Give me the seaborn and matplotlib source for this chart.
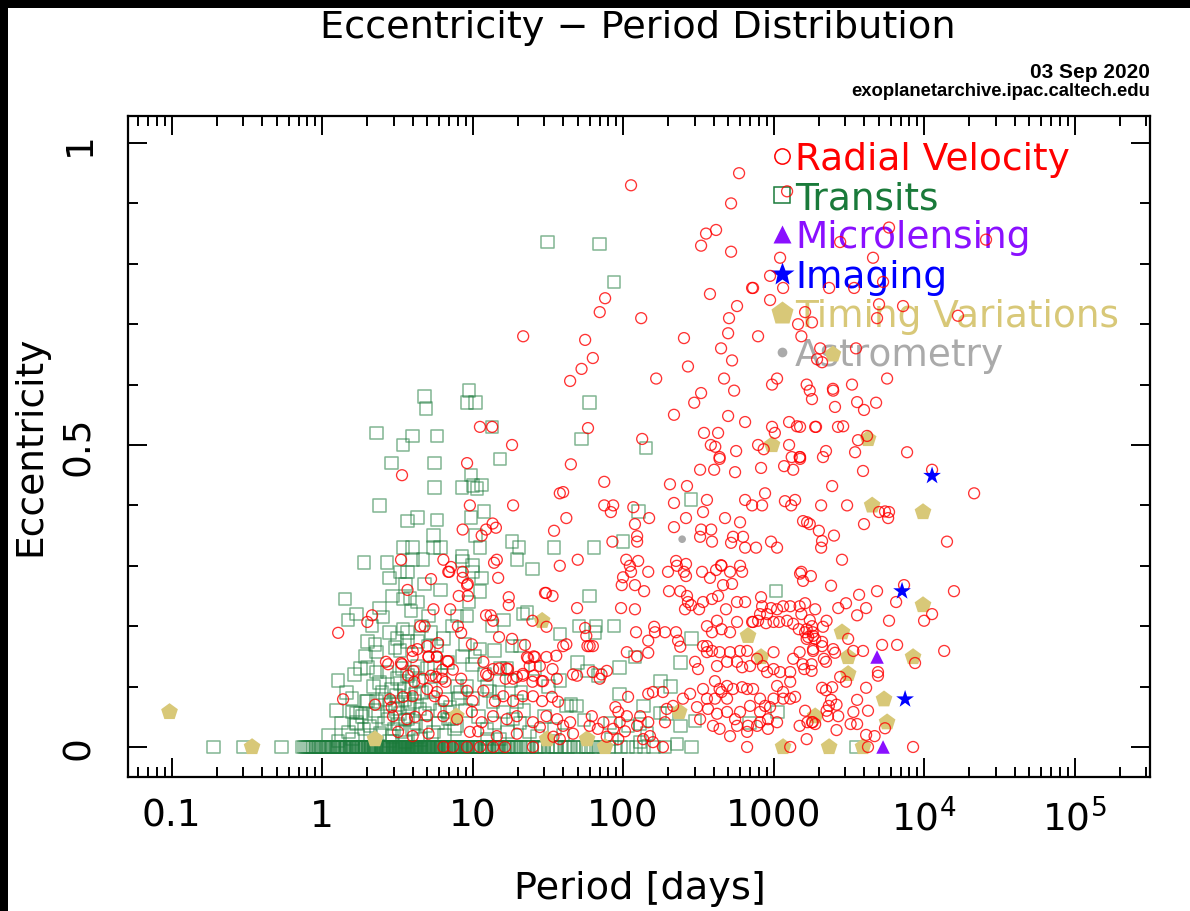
import matplotlib
matplotlib.use("Agg")
import matplotlib.pyplot as plt
from matplotlib.patches import Rectangle
from matplotlib.lines import Line2D
from matplotlib import lines as mlines
from matplotlib.ticker import LogLocator, MultipleLocator, NullFormatter
import pandas as pd
import seaborn as sns

# ---------------------------------------------------------------- data
# (orbital period [days], eccentricity) per discovery method

# Transits: planets with eccentricity fixed at zero
transit_circular_periods = [
    0.19, 0.30, 0.54, 0.74, 0.76, 0.79, 0.81, 0.83, 0.86, 0.88, 0.91, 0.94, 0.97, 0.99,
    1.02, 1.06, 1.09, 1.12, 1.15, 1.19, 1.22, 1.25, 1.29, 1.33, 1.37, 1.40, 1.44, 1.48,
    1.51, 1.55, 1.59, 1.63, 1.68, 1.72, 1.77, 1.81, 1.86, 1.9, 1.95, 2.0, 2.04, 2.09,
    2.13, 2.18, 2.22, 2.27, 2.31, 2.36, 2.41, 2.45, 2.5, 2.55, 2.6, 2.66, 2.71, 2.77,
    2.82, 2.88, 2.93, 2.99, 3.05, 3.1, 3.16, 3.22, 3.28, 3.35, 3.41, 3.47, 3.53, 3.6,
    3.67, 3.74, 3.81, 3.88, 3.95, 4.03, 4.11, 4.19, 4.27, 4.36, 4.44, 4.53, 4.62, 4.71,
    4.8, 4.9, 5.0, 5.1, 5.21, 5.33, 5.45, 5.57, 5.7, 5.84, 5.98, 6.12, 6.27, 6.43, 6.6,
    6.77, 6.95, 7.14, 7.34, 7.55, 7.77, 8.0, 8.24, 8.5, 8.77, 9.05, 9.35, 9.66, 9.98,
    10.3, 10.7, 11.1, 11.5, 12.0, 12.5, 13.0, 13.6, 14.2, 14.8, 15.5, 16.3, 17.1, 18.0,
    18.9, 19.9, 21.0, 22.2, 23.5, 24.9, 26.4, 28.0, 29.8, 31.7, 33.8, 36.0, 38.5, 41.2,
    44.1, 47.3, 50.8, 54.6, 58.8, 63.3, 68.4, 74.0, 80.1, 88.0, 97.0, 108, 122, 138,
    160, 190, 285, 3570,
    1.1, 1.27, 1.42, 1.57, 1.7, 1.84, 2.03, 2.21, 2.47, 2.58, 2.74, 2.96, 3.13, 3.3,
    3.44, 3.57, 3.7, 3.92, 4.07, 4.24, 4.49, 4.75, 5.05, 5.4, 5.77, 6.2, 6.9, 7.6, 8.4,
    9.2, 10.1, 11.3, 12.8, 14.5, 16.8, 19.5,
    0.95, 1.05, 1.17, 1.31, 1.46, 1.61, 1.75, 1.93, 2.11, 2.29, 2.52, 2.69, 2.86, 3.08,
    3.25, 3.38, 3.5, 3.63, 3.78, 3.99, 4.15, 4.32, 4.58, 4.85, 5.15, 5.52, 5.92, 6.35,
    7.0, 7.9, 8.9, 10.5, 12.2, 15.0, 17.5, 22.8, 27.1, 34.9, 43.0, 57.0,
]

transit_eccentric = [
    (4.8, 0.58), (4.9, 0.56), (9.5, 0.59), (9.2, 0.57), (10.5, 0.57), (2.3, 0.52),
    (4.0, 0.515), (5.8, 0.515), (3.45, 0.50), (13.5, 0.53), (2.9, 0.47), (5.6, 0.47),
    (15.2, 0.477), (9.8, 0.45), (8.5, 0.43), (10.1, 0.433), (11.5, 0.434), (10.7, 0.428),
    (5.6, 0.43), (2.4, 0.40), (4.3, 0.38), (3.7, 0.374), (5.8, 0.376), (9.8, 0.38),
    (11.9, 0.39), (5.5, 0.35), (10.5, 0.35), (11.2, 0.33), (3.45, 0.33), (4.0, 0.33),
    (5.5, 0.33), (6.1, 0.33), (18.3, 0.34), (20.3, 0.33), (34.8, 0.33), (1.9, 0.305),
    (2.7, 0.305), (4.7, 0.31), (4.0, 0.31), (8.5, 0.315), (8.6, 0.308), (10, 0.30),
    (19.7, 0.31), (25, 0.295),
    (1.42, 0.245), (1.28, 0.11), (1.58, 0.08), (1.7, 0.22), (1.49, 0.21), (2.4, 0.23),
    (2.8, 0.28), (3.3, 0.29), (3.7, 0.29), (4.8, 0.27), (3.6, 0.27), (3.45, 0.245),
    (3.85, 0.247), (4.3, 0.24), (6.1, 0.26), (5.1, 0.217), (7.9, 0.217), (9.2, 0.217),
    (9.5, 0.24), (11.2, 0.257), (11.5, 0.28), (10, 0.29), (16, 0.21), (21.6, 0.22),
    (20.7, 0.167), (18.3, 0.167), (14, 0.16), (11.2, 0.162), (10.4, 0.15), (8.6, 0.15),
    (10, 0.137), (7.9, 0.10), (9.2, 0.10), (8.3, 0.09), (10, 0.08), (12.5, 0.10),
    (13, 0.093), (15.2, 0.13), (16.9, 0.13), (19.7, 0.075), (18.6, 0.046), (20.7, 0.04),
    (24, 0.025), (27, 0.018), (12.5, 0.03), (23, 0.223), (6.4, 0.18), (5.8, 0.167),
    (5.1, 0.167), (4.3, 0.175), (3.7, 0.175), (3.15, 0.18), (3.05, 0.165), (3.3, 0.16),
    (2.25, 0.17), (2.3, 0.157), (2.0, 0.175), (2.8, 0.19), (3.45, 0.195), (3.7, 0.19),
    (1.8, 0.13), (2.0, 0.132), (2.3, 0.124), (2.0, 0.076), (2.3, 0.075), (1.6, 0.058),
    (1.7, 0.041), (2.4, 0.107), (2.7, 0.124), (3.15, 0.113), (3.4, 0.13), (3.7, 0.118),
    (4.0, 0.124), (4.3, 0.134), (5.0, 0.13), (5.6, 0.132), (6.1, 0.118),
    (2.62, 0.079), (2.83, 0.071), (3.05, 0.063), (3.3, 0.055), (3.56, 0.079), (3.84, 0.071),
    (4.14, 0.088), (4.47, 0.063), (2.74, 0.046), (3.2, 0.038), (3.72, 0.046), (4.0, 0.03),
    (2.43, 0.022), (2.92, 0.017), (3.4, 0.026), (4.34, 0.017), (2.08, 0.035), (2.25, 0.06),
    (1.84, 0.05), (4.83, 0.055), (5.2, 0.071), (6.07, 0.06), (6.9, 0.046), (6.6, 0.079),
    (7.6, 0.03), (6.8, 0.058), (7.3, 0.046), (7.9, 0.035), (12.5, 0.013), (15.2, 0.013),
    (13.7, 0.075), (16, 0.058), (1.7, 0.056), (1.8, 0.056), (1.96, 0.075), (1.7, 0.038),
    (1.28, 0.01), (1.6, 0.013),
    (2.5, 0.09), (2.9, 0.095), (3.1, 0.085), (3.5, 0.095), (3.9, 0.1), (4.6, 0.09),
    (5.3, 0.095), (2.2, 0.1), (3.3, 0.105), (4.4, 0.11), (2.6, 0.04), (3.0, 0.03),
    (3.55, 0.045), (4.2, 0.04), (4.9, 0.035), (5.5, 0.025), (2.8, 0.01), (3.6, 0.008),
    (4.5, 0.012), (3.2, 0.07), (3.75, 0.065), (4.1, 0.075), (2.35, 0.05), (5.9, 0.04),
    (6.5, 0.02), (7.1, 0.065), (8.0, 0.08), (9.0, 0.06), (11, 0.05), (14, 0.04),
    (17, 0.025), (22, 0.06), (30, 0.05), (35, 0.03), (40, 0.02), (2.1, 0.02), (1.9, 0.03),
    (1.5, 0.025), (1.35, 0.04), (1.1, 0.02), (1.25, 0.06), (1.45, 0.09), (1.65, 0.12),
    (1.95, 0.15), (2.15, 0.2), (2.55, 0.215), (2.95, 0.25), (3.9, 0.225), (4.6, 0.2),
    (5.3, 0.19), (6.8, 0.14), (7.3, 0.2), (8.9, 0.17), (12, 0.12), (13.5, 0.2), (15, 0.09),
    (18, 0.11), (21, 0.09), (26, 0.13), (32, 0.1), (45, 0.07), (55, 0.045),
    (31.6, 0.836), (70, 0.833), (87, 0.77), (60, 0.57), (53, 0.51), (142, 0.495),
    (282, 0.41), (127, 0.39), (100, 0.34), (64, 0.33), (60, 0.25), (51, 0.2), (66, 0.2),
    (87, 0.2), (65, 0.19), (285, 0.18), (240, 0.14), (38, 0.187), (50, 0.14), (58, 0.126),
    (68, 0.118), (95, 0.132), (120, 0.149), (1035, 0.258), (178, 0.109), (207, 0.10),
    (95, 0.088), (137, 0.068), (176, 0.056), (195, 0.055), (240, 0.035), (300, 0.043),
    (82, 0.04), (108, 0.035), (130, 0.038), (144, 0.022), (228, 0.005), (84, 0.013),
    (130, 0.008), (1065, 0.058), (690, 0.04), (38, 0.11), (42, 0.068), (49, 0.068),
]

rv_short = [
    (11.2, 0.53), (13.5, 0.53), (18.3, 0.50), (9.2, 0.47), (3.4, 0.45), (9.6, 0.40),
    (18.6, 0.40), (8.6, 0.36), (11.5, 0.35), (12.3, 0.36), (13.6, 0.37), (14.3, 0.363),
    (34.8, 0.358), (38, 0.42), (3.35, 0.31), (6.4, 0.31), (7.2, 0.298), (13.9, 0.305),
    (14.5, 0.31), (21.7, 0.68), (7.0, 0.29), (5.3, 0.278), (3.7, 0.26), (8.6, 0.28),
    (9.2, 0.268), (8.1, 0.25), (9.3, 0.25), (14.8, 0.28), (17.4, 0.248), (17.4, 0.235),
    (30.3, 0.255), (5.5, 0.228), (7.1, 0.228), (2.15, 0.218), (2.0, 0.207), (1.28, 0.189),
    (12.3, 0.218), (13.2, 0.218), (13.7, 0.209), (8.0, 0.2), (8.4, 0.189), (4.5, 0.2),
    (4.8, 0.2), (5.9, 0.172), (9.9, 0.17), (15, 0.182), (18.3, 0.179), (22.3, 0.169),
    (25, 0.209), (4.0, 0.159), (5.1, 0.15), (5.8, 0.15), (3.35, 0.139), (6.8, 0.142),
    (7.4, 0.128), (6.3, 0.128), (11.8, 0.141), (12.7, 0.118), (15, 0.13), (16.9, 0.13),
    (23.4, 0.147), (25.5, 0.15), (29.4, 0.109), (19.7, 0.116), (21.6, 0.121), (25, 0.108),
    (2.66, 0.141), (1.38, 0.079), (2.25, 0.07), (2.9, 0.066), (4.1, 0.108), (4.7, 0.113),
    (5.7, 0.116), (5.8, 0.091), (6.6, 0.108), (8.6, 0.29), (6.9, 0.29), (9.3, 0.27),
    (30.8, 0.255), (34, 0.25), (31, 0.199), (5.0, 0.167), (4.3, 0.162), (4.0, 0.149),
    (3.4, 0.137), (2.75, 0.137), (5.8, 0.149), (5.1, 0.149), (6.9, 0.142), (13.7, 0.129),
    (17.2, 0.129), (23, 0.149), (26, 0.149), (31, 0.149), (36, 0.151), (24, 0.134),
    (28, 0.134), (34, 0.129), (3.73, 0.118), (4.05, 0.126), (5.3, 0.118), (6.3, 0.113),
    (8.4, 0.113), (12.3, 0.121), (16.6, 0.113), (18.6, 0.113), (21.6, 0.118), (25.5, 0.118),
    (28.8, 0.109), (36.3, 0.113), (5.0, 0.096), (5.6, 0.084), (6.4, 0.076), (9.2, 0.093),
    (10, 0.076), (11.8, 0.093), (14.1, 0.076), (16, 0.084), (18.6, 0.076), (21.6, 0.084),
    (25.2, 0.084), (29, 0.076), (33.7, 0.083), (37, 0.075), (2.83, 0.079), (3.45, 0.083),
    (4.0, 0.084), (2.96, 0.051), (3.67, 0.046), (4.15, 0.05), (5.0, 0.051), (6.4, 0.051),
    (7.9, 0.046), (9.9, 0.058), (11.5, 0.041), (13.7, 0.051), (16.9, 0.046), (19.7, 0.051),
    (25.2, 0.041), (31, 0.051), (36.5, 0.046), (3.2, 0.025), (4.0, 0.018), (5.1, 0.022),
    (9.6, 0.025), (10.9, 0.026), (14.5, 0.018), (19.7, 0.022), (28, 0.033), (34.5, 0.017),
    (6.4, 0.0), (7.4, 0.0), (9.2, 0.0), (11.2, 0.0), (13.7, 0.0), (16.4, 0.0), (25.2, 0.0),
]

rv_mid = [
    (590, 0.95), (113, 0.93), (522, 0.90), (356, 0.85), (415, 0.856), (330, 0.83),
    (522, 0.82), (720, 0.76), (378, 0.75), (948, 0.74), (948, 0.78), (572, 0.73),
    (506, 0.71), (499, 0.685), (789, 0.68), (448, 0.66), (530, 0.64), (469, 0.61),
    (547, 0.59), (977, 0.60), (499, 0.548), (647, 0.538), (977, 0.53), (345, 0.52),
    (428, 0.52), (383, 0.50), (410, 0.497), (564, 0.49), (438, 0.48), (789, 0.50),
    (860, 0.493), (254, 0.677), (270, 0.63), (166, 0.61), (330, 0.586), (297, 0.57),
    (218, 0.55), (132, 0.71), (76, 0.743), (70, 0.72), (56, 0.674), (63, 0.644),
    (53, 0.626), (44.5, 0.606), (58.5, 0.528), (134, 0.51), (731, 0.76),
    (45, 0.468), (325, 0.459), (403, 0.459), (555, 0.455), (826, 0.462), (438, 0.477),
    (75, 0.439), (40, 0.422), (205, 0.435), (266, 0.432), (878, 0.42), (75, 0.40),
    (86, 0.40), (83, 0.389), (117, 0.397), (218, 0.404), (361, 0.409), (647, 0.409),
    (720, 0.40), (839, 0.40), (42, 0.379), (149, 0.379), (262, 0.379), (340, 0.389),
    (476, 0.379), (599, 0.372), (120, 0.369), (218, 0.364), (330, 0.36), (385, 0.36),
    (325, 0.348), (538, 0.348), (627, 0.348), (522, 0.338), (124, 0.349), (124, 0.34),
    (85, 0.34), (390, 0.34), (765, 0.33), (647, 0.33), (962, 0.34),
    (50, 0.31), (38, 0.30), (105, 0.31), (111, 0.30), (126, 0.308), (147, 0.29),
    (113, 0.29), (100, 0.281), (225, 0.308), (228, 0.30), (262, 0.303), (199, 0.29),
    (262, 0.283), (254, 0.29), (335, 0.29), (378, 0.28), (415, 0.293), (448, 0.301),
    (451, 0.30), (514, 0.29), (599, 0.30), (618, 0.29), (462, 0.268), (530, 0.27),
    (98, 0.268), (120, 0.268), (138, 0.258), (202, 0.258), (240, 0.258), (266, 0.25),
    (270, 0.24), (283, 0.235), (340, 0.24), (390, 0.245), (428, 0.25), (483, 0.228),
    (572, 0.24), (647, 0.24), (320, 0.228), (258, 0.228), (97, 0.23), (120, 0.228),
    (49.5, 0.23), (826, 0.248), (839, 0.233), (962, 0.23),
    (906, 0.22), (813, 0.22), (731, 0.207), (789, 0.209), (891, 0.205), (421, 0.209),
    (361, 0.20), (390, 0.19), (451, 0.195), (514, 0.19), (572, 0.207), (720, 0.207),
    (161, 0.199), (163, 0.19), (190, 0.19), (225, 0.19), (232, 0.176), (240, 0.166),
    (147, 0.176), (122, 0.19), (56, 0.197), (57, 0.184), (60, 0.167), (63, 0.167),
    (58, 0.167), (42, 0.17), (40, 0.167), (46.5, 0.12), (49.5, 0.118), (106, 0.157),
    (124, 0.15), (147, 0.156), (340, 0.167), (361, 0.167), (361, 0.157), (301, 0.141),
    (315, 0.129), (390, 0.159), (438, 0.157), (514, 0.157), (599, 0.159), (667, 0.159),
    (421, 0.134), (491, 0.141), (572, 0.141), (618, 0.132), (698, 0.134), (851, 0.134),
    (906, 0.124), (777, 0.146),
    (408, 0.109), (438, 0.096), (491, 0.101), (538, 0.096), (618, 0.099), (667, 0.096),
    (731, 0.096), (340, 0.096), (361, 0.08), (408, 0.08), (491, 0.08), (451, 0.091),
    (250, 0.08), (279, 0.088), (813, 0.08), (878, 0.068), (948, 0.066), (698, 0.068),
    (813, 0.058), (918, 0.046), (310, 0.066), (367, 0.063), (421, 0.055), (491, 0.058),
    (599, 0.058), (325, 0.046), (396, 0.035), (438, 0.03), (572, 0.035), (676, 0.035),
    (813, 0.041), (777, 0.035), (918, 0.03), (555, 0.046), (514, 0.018), (667, 0.025),
    (667, 0.0), (184, 0.0), (158, 0.008), (151, 0.018), (124, 0.035), (130, 0.051),
    (136, 0.013), (147, 0.041), (93, 0.058), (89, 0.066), (106, 0.051), (95, 0.041),
    (86, 0.03), (103, 0.026), (93, 0.013), (62, 0.051), (60, 0.035), (68, 0.03),
    (74, 0.041), (78, 0.017), (40, 0.035), (44.5, 0.041), (46.5, 0.022), (38, 0.013),
    (108, 0.083), (147, 0.088), (158, 0.091), (184, 0.091), (195, 0.063), (190, 0.041),
    (215, 0.068), (70, 0.113), (63, 0.124), (72, 0.12), (78, 0.126),
]

rv_long = [
    (1230, 0.92), (1105, 0.81), (1157, 0.76), (1620, 0.72), (1455, 0.70), (1800, 0.703),
    (1530, 0.68), (1055, 0.61), (1660, 0.60), (1800, 0.576), (1268, 0.538), (1430, 0.531),
    (1915, 0.53), (1020, 0.52), (1268, 0.50), (1320, 0.48), (1490, 0.48),
    (25800, 0.84), (5850, 0.86), (2770, 0.836), (4580, 0.81), (2340, 0.76), (3430, 0.76),
    (5340, 0.77), (5020, 0.733), (7250, 0.73), (16800, 0.714), (4870, 0.71), (2040, 0.66),
    (3530, 0.66), (1945, 0.642), (2100, 0.637), (2480, 0.593), (5680, 0.61),
    (1740, 0.59), (2490, 0.59), (2560, 0.563), (3320, 0.60), (3590, 0.571), (3990, 0.558),
    (4800, 0.57), (1890, 0.53), (2680, 0.53), (2900, 0.531), (1500, 0.53), (4180, 0.515),
    (3640, 0.508), (2230, 0.49), (2130, 0.48), (3480, 0.488), (7710, 0.488), (1500, 0.48),
    (3930, 0.457), (11300, 0.459), (21500, 0.42), (2450, 0.432), (2070, 0.40), (3080, 0.40),
    (5020, 0.389), (5500, 0.39), (5850, 0.389), (5770, 0.379), (1570, 0.374), (1740, 0.369),
    (1670, 0.372), (3990, 0.369), (2000, 0.358), (2520, 0.35), (2100, 0.341), (2070, 0.33),
    (14200, 0.34), (2850, 0.31), (1530, 0.29), (1770, 0.283), (2410, 0.267), (7360, 0.268),
    (15800, 0.258), (1500, 0.287), (1570, 0.275), (3700, 0.252), (4870, 0.258), (6520, 0.24),
    (3030, 0.238), (4120, 0.23), (2690, 0.23), (1890, 0.228), (1530, 0.22), (3590, 0.218),
    (11300, 0.22), (10000, 0.209), (5850, 0.209), (2250, 0.209), (2130, 0.199), (1740, 0.21),
    (1800, 0.2), (1620, 0.19), (1700, 0.182), (1830, 0.184), (3130, 0.179), (2100, 0.174),
    (2100, 0.167), (1830, 0.162), (1830, 0.159), (2490, 0.162), (2560, 0.156), (3390, 0.159),
    (3930, 0.159), (5260, 0.169), (6620, 0.169), (13600, 0.159), (8710, 0.139), (4940, 0.124),
    (4940, 0.118), (2160, 0.146), (2230, 0.141), (1790, 0.137), (1790, 0.126), (1560, 0.137),
    (1600, 0.129), (2770, 0.116), (3030, 0.108), (2100, 0.098), (2230, 0.094), (2450, 0.099),
    (4120, 0.098), (2410, 0.078), (2620, 0.07), (2330, 0.068), (3590, 0.078), (1620, 0.06),
    (2250, 0.06), (2300, 0.051), (3390, 0.058), (4240, 0.06), (2690, 0.051), (1680, 0.041),
    (1800, 0.041), (1890, 0.038), (3250, 0.038), (3590, 0.038), (2620, 0.028), (4120, 0.02),
    (4690, 0.018), (5500, 0.031), (4240, 0.0), (8450, 0.0),
    (1175, 0.465), (1350, 0.459), (1500, 0.477), (1190, 0.407), (1310, 0.40), (1390, 0.409),
    (1055, 0.33), (1000, 0.207), (1090, 0.207), (1230, 0.209), (1350, 0.204), (1470, 0.195),
    (1660, 0.195), (1820, 0.19), (1660, 0.179), (1890, 0.179), (1055, 0.228), (1157, 0.233),
    (1290, 0.233), (1490, 0.233), (1620, 0.238), (1000, 0.129), (1105, 0.124), (1290, 0.124),
    (1000, 0.157), (1350, 0.146), (1490, 0.157), (1055, 0.101), (1157, 0.091), (1290, 0.108),
    (1000, 0.08), (1157, 0.08), (1290, 0.08), (1390, 0.083), (1055, 0.041), (1290, 0.0),
    (1660, 0.013), (1820, 0.041), (1490, 0.035),
]

timing_variations = [
    (0.097, 0.058), (0.343, 0.0), (2.25, 0.013), (7.8, 0.051), (29, 0.209), (31.3, 0.013),
    (57.7, 0.013), (76, 0.0), (236, 0.058), (677, 0.184), (826, 0.149), (1890, 0.051),
    (1157, 0.0), (977, 0.50), (2480, 0.65), (4250, 0.51), (4520, 0.40), (9840, 0.389),
    (9840, 0.235), (2850, 0.19), (3130, 0.149), (8450, 0.149), (3130, 0.121), (5420, 0.079),
    (5680, 0.041), (2340, 0.0), (3930, 0.0),
]
imaging = [(11300, 0.449), (7140, 0.258), (7480, 0.079)]
microlensing = [(4870, 0.149), (5340, 0.0)]
astrometry = [(247, 0.344)]

x_tick_values = [0.1, 1, 10, 100, 1000, 1e4, 1e5]
x_tick_labels = ["0.1", "1", "10", "100", "1000", r"$10^4$", r"$10^5$"]
y_tick_values = [0, 0.5, 1]
y_tick_labels = ["0", "0.5", "1"]

method_labels = ["Radial Velocity", "Transits", "Microlensing", "Imaging",
                 "Timing Variations", "Astrometry"]
method_colors = ["#ff0000", "#1a7a3a", "#8a10ff", "#0000ff", "#d8c878", "#aaaaaa"]


def frame(pairs):
    return pd.DataFrame(pairs, columns=["period", "ecc"])


transits = pd.concat([
    pd.DataFrame({"period": transit_circular_periods,
                  "ecc": [0.0] * len(transit_circular_periods)}),
    frame(transit_eccentric),
], ignore_index=True)
radial_velocity = frame(rv_short + rv_mid + rv_long)

# ---------------------------------------------------------------- figure
sns.set_theme(style="ticks")
plt.rcParams["font.family"] = ["DejaVu Sans"]
plt.rcParams["mathtext.fontset"] = "dejavusans"
plt.rcParams.update({
    "xtick.bottom": True, "xtick.top": True, "ytick.left": True, "ytick.right": True,
    "xtick.direction": "in", "ytick.direction": "in",
})

FS = 27
W, H = 1190, 912
fig = plt.figure(figsize=(W / 100, H / 100), dpi=100)
fig.patch.set_facecolor("black")
fig.patches.append(Rectangle((8 / W, 0), 1 - 8 / W, 1 - 9 / H, transform=fig.transFigure,
                             facecolor="white", edgecolor="none", zorder=-10))

ax = fig.add_axes([128 / W, 1 - 778 / H, (1150 - 128) / W, (778 - 117) / H])
ax.set_xscale("log")

sns.scatterplot(data=transits, x="period", y="ecc", ax=ax, marker="s", s=82,
                color=method_colors[1], facecolors="none", edgecolors=method_colors[1],
                linewidth=1.1, alpha=0.55, legend=False, zorder=3)
sns.scatterplot(data=frame(timing_variations), x="period", y="ecc", ax=ax, marker="p",
                s=160, color=method_colors[4], edgecolors="none", linewidth=0,
                legend=False, zorder=4)
sns.scatterplot(data=radial_velocity, x="period", y="ecc", ax=ax, marker="o", s=62,
                color=method_colors[0], facecolors="none", edgecolors=method_colors[0],
                linewidth=0.95, alpha=0.8, legend=False, zorder=5)
sns.scatterplot(data=frame(microlensing), x="period", y="ecc", ax=ax, marker="^", s=95,
                color=method_colors[2], edgecolors="none", linewidth=0, legend=False, zorder=6)
sns.scatterplot(data=frame(imaging), x="period", y="ecc", ax=ax, marker="*", s=180,
                color=method_colors[3], edgecolors="none", linewidth=0, legend=False, zorder=7)
sns.scatterplot(data=frame(astrometry), x="period", y="ecc", ax=ax, marker="o", s=30,
                color=method_colors[5], edgecolors="none", linewidth=0, legend=False, zorder=8)

ax.set_xlim(0.0514, 3.17e5)
ax.set_ylim(-0.0497, 1.0447)

ax.set_xticks(x_tick_values, x_tick_labels)
ax.xaxis.set_minor_locator(LogLocator(base=10, subs=range(2, 10), numticks=20))
ax.xaxis.set_minor_formatter(NullFormatter())
ax.set_yticks(y_tick_values, y_tick_labels)
ax.yaxis.set_minor_locator(MultipleLocator(0.1))

for side in ax.spines.values():
    side.set_color("black")
    side.set_linewidth(1.6)

ax.xaxis.set_ticks_position("both")
ax.yaxis.set_ticks_position("both")
ax.tick_params(which="major", direction="in", length=14, width=1.4, color="black")
ax.tick_params(which="minor", direction="in", length=7, width=1.4, color="black")
ax.tick_params(axis="x", which="major", labelsize=FS, pad=15, labelcolor="black")
ax.tick_params(axis="y", which="major", labelsize=FS, pad=22, labelcolor="black",
               labelrotation=90)
for lbl in ax.get_yticklabels():
    lbl.set_verticalalignment("center")

ax.set_xlabel("Period [days]", fontsize=FS + 0.5, color="black")
ax.xaxis.label.set_verticalalignment("center")
ax.xaxis.set_label_coords(0.501, -0.168)
ax.set_ylabel("Eccentricity", fontsize=FS, color="black")
ax.yaxis.label.set_verticalalignment("center")
ax.yaxis.set_label_coords(-0.096, 0.502)

fig.text(638 / W, 1 - 28 / H, "Eccentricity \u2212 Period Distribution",
         ha="center", va="center", fontsize=FS + 0.5, color="black")
fig.text(1150 / W, 1 - 73 / H, "03 Sep 2020", ha="right", va="center", fontsize=15,
         fontweight="bold", family="Liberation Sans", color="black")
fig.text(1150 / W, 1 - 92 / H, "exoplanetarchive.ipac.caltech.edu", ha="right",
         va="center", fontsize=13.3, fontweight="bold", family="Liberation Sans",
         color="black")

# method key, drawn underneath the data points
handles = [
    Line2D([], [], ls="none", marker="o", ms=11, mfc="none", mec=method_colors[0], mew=1.1),
    Line2D([], [], ls="none", marker="s", ms=12, mfc="none", mec=method_colors[1], mew=1.1),
    Line2D([], [], ls="none", marker="^", ms=13, mfc=method_colors[2], mec="none"),
    Line2D([], [], ls="none", marker="*", ms=18, mfc=method_colors[3], mec="none"),
    Line2D([], [], ls="none", marker="p", ms=17, mfc=method_colors[4], mec="none"),
    Line2D([], [], ls="none", marker="o", ms=7, mfc=method_colors[5], mec="none"),
]
leg = ax.legend(handles, method_labels, loc="upper left", bbox_to_anchor=(0.6307, 0.962),
                frameon=False, fontsize=FS, handlelength=0.5, handletextpad=0.1,
                borderpad=0, borderaxespad=0, labelspacing=0.085, labelcolor=method_colors)
leg.set_zorder(2)

# build the ticks once, then pin the lower/left inward tick marks explicitly
fig.canvas.draw()
for axis, inward in ((ax.xaxis, mlines.TICKUP), (ax.yaxis, mlines.TICKRIGHT)):
    for major, ticks in ((True, axis.get_major_ticks()), (False, axis.get_minor_ticks())):
        for tick in ticks:
            tick.tick1line.set_visible(True)
            tick.tick1line.set_marker(inward)
            tick.tick1line.set_markersize(14 if major else 7)
            tick.tick1line.set_markeredgewidth(1.4)
            tick.tick1line.set_color("black")
            tick.tick1line.set_clip_on(False)

fig.savefig("out.png", dpi=100, facecolor=fig.get_facecolor())
